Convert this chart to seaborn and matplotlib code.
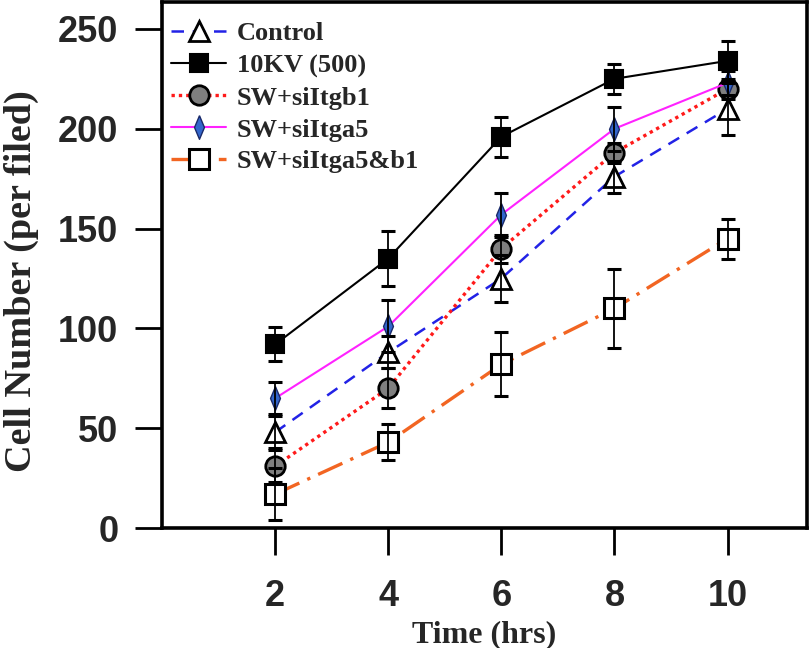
import matplotlib
matplotlib.use("Agg")
import matplotlib.pyplot as plt
import seaborn as sns
import numpy as np
import pandas as pd

# ---- data ----
time_hrs = [2, 4, 6, 8, 10]
labels = ["Control", "10KV (500)", "SW+siItgb1", "SW+siItga5", "SW+siItga5&b1"]
control = [48, 88, 125, 176, 210]
control_err = [8, 8, 12, 8, 13]
kv10 = [92, 135, 196, 225, 234]
kv10_err = [8.5, 14, 10, 7.5, 10]
si_b1 = [31, 70, 140, 188, 220]
si_b1_err = [8, 10, 7, 5, 5]
si_a5 = [65, 101, 157, 200, 223]
si_a5_err = [8, 13, 11, 11, 6]
si_a5b1 = [17, 43, 82, 110, 145]
si_a5b1_err = [13, 9, 16, 20, 10]
x_ticks = [2, 4, 6, 8, 10]
y_ticks = [0, 50, 100, 150, 200, 250]

series_vals = [control, kv10, si_b1, si_a5, si_a5b1]
series_errs = [control_err, kv10_err, si_b1_err, si_a5_err, si_a5b1_err]

sns.set_style("ticks")

diamond = [(0, 1), (0.42, 0), (0, -1), (-0.42, 0), (0, 1)]
styles = [
    dict(color="#2222e6", lw=1.8, dashes=(5, 3.5), marker="^", ms=15,
         mfc="white", mec="black", mew=2.0),
    dict(color="black", lw=1.5, linestyle="-", marker="s", ms=13,
         mfc="black", mec="black", mew=1.5),
    dict(color="#ff1a1a", lw=2.4, dashes=(1, 1.2), marker="o", ms=14,
         mfc="#7f7f7f", mec="black", mew=2.0),
    dict(color="#ff22ff", lw=1.5, linestyle="-", marker=diamond, ms=17,
         mfc="#3366cc", mec="#1a2a6a", mew=1.0),
    dict(color="#f26522", lw=2.4, dashes=(8, 2.6, 1, 2.6), marker="s", ms=14,
         mfc="white", mec="black", mew=2.2),
]

fig = plt.figure(figsize=(8.1, 6.48), dpi=100)
ax = fig.add_axes([0.2, 0.185, 0.796, 0.812])

handles = []
for lab, vals, errs, st in zip(labels, series_vals, series_errs, styles):
    df = pd.DataFrame({"t": time_hrs, "v": vals})
    st = dict(st)
    color = st.pop("color")
    sns.lineplot(data=df, x="t", y="v", ax=ax, color=color, label=lab,
                 legend=False, zorder=3, **st)
    handles.append(ax.lines[-1])
    ax.errorbar(time_hrs, vals, yerr=errs, fmt="none", ecolor="black",
                elinewidth=1.3, capsize=5, capthick=2.2, zorder=5)

ax.set_xlim(0, 11.4)
ax.set_ylim(0, 263.5)
ax.set_xticks(x_ticks)
ax.set_yticks(y_ticks)

tick_font = dict(family="Liberation Sans", weight="bold", size=26)
ax.set_xticklabels([str(t) for t in x_ticks], fontdict=tick_font)
ax.set_yticklabels([str(t) for t in y_ticks], fontdict=tick_font)
ax.tick_params(axis="both", direction="out", length=19.5, width=2, color="black")
ax.tick_params(axis="y", pad=12)
ax.tick_params(axis="x", pad=17)

for sp in ax.spines.values():
    sp.set_linewidth(2.6)
    sp.set_color("black")

lab_font = dict(family="Liberation Serif", weight="bold")
ax.set_xlabel("Time (hrs)", fontsize=23, **lab_font)
ax.set_ylabel("Cell Number (per filed)", fontsize=27.5, **lab_font)
ax.xaxis.set_label_coords(0.5, -0.175)
ax.yaxis.set_label_coords(-0.19, 0.47)
ax.xaxis.label.set_va("top")
ax.yaxis.label.set_va("bottom")

leg = ax.legend(handles=handles, labels=labels, loc="upper left",
                bbox_to_anchor=(0.014, 0.962), frameon=False,
                prop=dict(family="Liberation Serif", weight="bold", size=19),
                handlelength=2.1, handletextpad=0.4, labelspacing=0.32,
                borderpad=0, borderaxespad=0)

fig.savefig("out.png", dpi=100)
